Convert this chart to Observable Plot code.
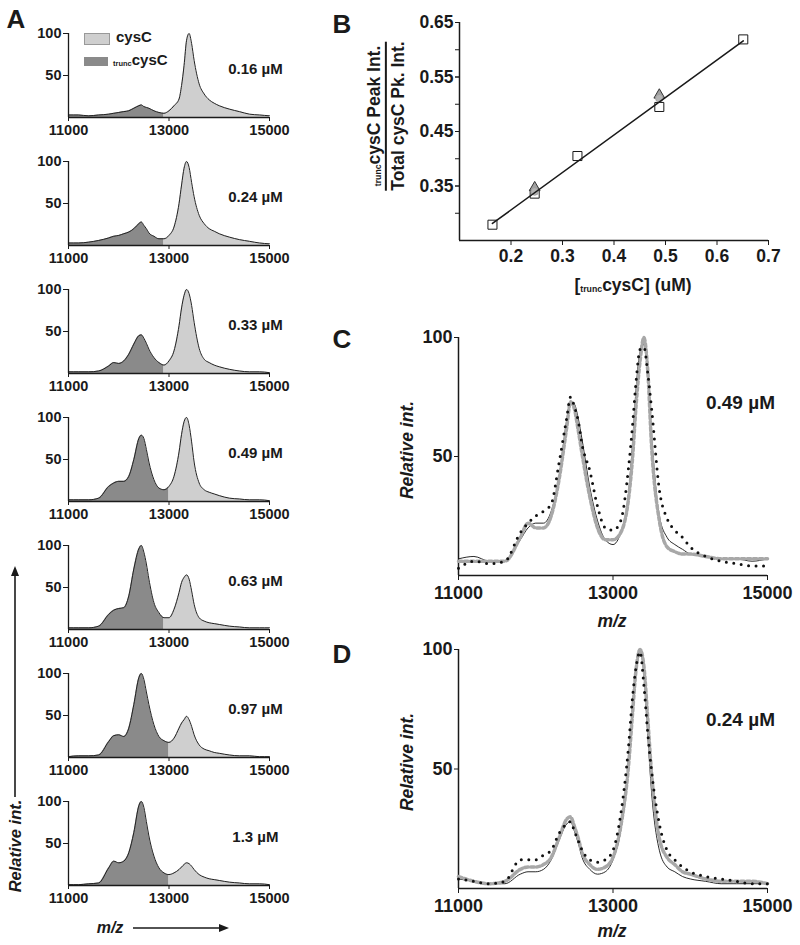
<!DOCTYPE html>
<html><head><meta charset="utf-8">
<script src="https://cdn.jsdelivr.net/npm/d3@7"></script>
<script src="https://cdn.jsdelivr.net/npm/@observablehq/plot@0.6"></script>
<style>
body{margin:0;background:#fff;}
#root{position:relative;width:800px;height:945px;font-family:"Liberation Sans",Arial,Helvetica,sans-serif;font-weight:bold;color:#1a1a1a;overflow:hidden;background:#fff}
sub.t{font-size:0.5em;vertical-align:baseline;position:relative;top:0.15em}
</style></head><body><div id="root"></div>
<script>
// ---------- DATA ----------
const mz = [11000,11200,11400,11600,11800,11900,12000,12100,12200,12300,12400,12450,12500,12550,12600,12700,12800,12900,13000,13100,13200,13250,13300,13350,13400,13450,13500,13600,13700,13800,13900,14000,14200,14400,14600,14800,15000];

// Panel A spectra (relative intensity)
const specA016 = [3,3,2,3,4,5,6,7,8,11,14,15,13,12,11,8,6,5,8,14,22,38,62,92,100,88,68,40,28,21,17,14,10,7,4,3,2];
const specA024 = [3,3,4,6,9,11,12,14,16,20,26,28,24,20,15,11,8,8,12,22,50,72,92,100,93,75,58,36,26,20,17,14,10,7,5,3,2];
const specA033 = [2,2,2,3,9,13,12,15,23,35,45,46,42,36,29,19,13,10,15,27,57,78,93,100,95,81,61,30,17,13,10,8,5,3,2,2,1];
const specA049 = [2,2,2,4,18,22,24,24,30,50,75,79,75,62,47,26,16,14,18,30,59,80,95,100,91,71,47,22,14,11,9,7,4,3,2,2,1];
const specA063 = [2,2,2,4,18,23,25,26,40,72,96,100,92,78,60,32,20,14,14,24,44,56,62,65,60,46,30,14,10,8,7,6,4,3,2,2,2];
const specA097 = [1,2,2,3,19,26,27,25,35,63,95,100,93,78,63,39,25,20,18,23,35,41,45,49,45,37,27,15,10,8,6,5,3,2,2,1,1];
const specA130 = [1,1,2,3,21,29,27,29,39,63,95,100,93,76,59,35,21,15,13,15,19,22,25,27,26,23,19,13,10,8,7,6,4,3,2,2,1];
const concA = ["0.16 µM","0.24 µM","0.33 µM","0.49 µM","0.63 µM","0.97 µM","1.3 µM"];
const splitA = [12900,12900,12900,13000,12900,13000,13000];
const xTicks = [11000,13000,15000];
const yTicksInt = [50,100];

// Panel B
const sqX = [0.164,0.246,0.329,0.488,0.651];
const sqY = [0.279,0.336,0.405,0.495,0.619];
const triX = [0.246,0.488];
const triY = [0.347,0.517];
const cirX = [0.246,0.488];
const cirY = [0.340,0.511];
const bTicksX = [0.2,0.3,0.4,0.5,0.6,0.7];
const bTicksY = [0.30,0.35,0.40,0.45,0.50,0.55,0.60,0.65];
const bLabelsY = [0.35,0.45,0.55,0.65];

// Panel C (0.49 µM)
const cSolid  = [7,8,6,6,15,20,22,22,27,41,65,73,72,66,57,37,23,15,13,18,34,54,79,94,97,86,59,25,16,13,11,9,8,7,7,6,7];
const cGrey   = [6,6,6,6,16,22,20,20,25,40,62,73,70,61,51,33,20,15,15,18,32,48,72,90,100,86,54,23,12,10,9,9,8,7,7,7,7];
const cDotted = [3,6,5,6,18,22,25,27,30,47,66,75,71,65,55,44,29,20,19,23,45,62,82,95,96,85,70,36,24,19,16,12,8,6,5,4,4];
// Panel D (0.24 µM)
const dSolid  = [4,3,2,2,6,7,7,8,12,20,27,28,24,19,13,8,6,7,12,24,50,71,90,99,90,64,40,16,9,7,5,4,3,2,2,2,2];
const dGrey   = [5,3,2,3,8,9,9,10,13,21,29,30,26,21,15,10,8,9,13,26,51,72,92,100,93,71,48,21,13,10,7,6,4,3,3,3,2];
const dDotted = [4,3,2,3,12,12,12,14,16,23,27,28,24,20,16,12,11,12,16,31,59,79,93,99,85,65,49,27,16,12,9,7,5,4,3,2,2];

// ---------- HELPERS ----------
const FONT = '"Liberation Sans", Arial, Helvetica, sans-serif';
const INK = "#1a1a1a";
const root = document.getElementById("root");
function place(node, left, top) {
  node.style.position = "absolute";
  node.style.left = left + "px";
  node.style.top = top + "px";
  root.appendChild(node);
}
function label(html, cx, cy, size, opts = {}) {
  const d = document.createElement("div");
  d.innerHTML = html;
  d.style.cssText = `position:absolute;left:${cx}px;top:${cy}px;transform:translate(-50%,-50%)${opts.rotate ? ` rotate(${opts.rotate}deg)` : ""};font-size:${size}px;font-weight:bold;${opts.italic ? "font-style:italic;" : ""}white-space:nowrap;line-height:1.15;text-align:center;color:${INK};`;
  root.appendChild(d);
  return d;
}
const series = vals => mz.map((m, k) => ({m, v: vals[k]}));
const baseStyle = size => ({fontFamily: FONT, fontWeight: "bold", fontSize: size + "px", color: INK, background: "none", overflow: "visible"});

// ---------- PANEL A ----------
const specA = [specA016, specA024, specA033, specA049, specA063, specA097, specA130];
specA.forEach((vals, i) => {
  const data = series(vals);
  const split = splitA[i];
  const svg = Plot.plot({
    width: 300, height: 119,
    marginLeft: 68, marginRight: 31, marginTop: 10, marginBottom: 25,
    x: {domain: [11000, 15000], label: null},
    y: {domain: [0, 100], label: null},
    style: baseStyle(14.5),
    marks: [
      Plot.areaY(data.filter(d => d.m <= split), {x: "m", y: "v", fill: "#8a8a8a", curve: "monotone-x"}),
      Plot.areaY(data.filter(d => d.m >= split), {x: "m", y: "v", fill: "#cfcfcf", curve: "monotone-x"}),
      Plot.lineY(data, {x: "m", y: "v", stroke: "#222", strokeWidth: 1, curve: "monotone-x"}),
      Plot.ruleY([0], {stroke: INK, strokeWidth: 1.3}),
      Plot.ruleX([11000], {stroke: INK, strokeWidth: 1.3}),
      Plot.axisX({ticks: xTicks, tickFormat: "d", tickSize: 4, tickPadding: 3, stroke: INK, fill: INK}),
      Plot.axisY({ticks: yTicksInt, tickSize: 5, tickPadding: 2, stroke: INK, fill: INK}),
      Plot.text([concA[i]], {x: 14720, y: 58, text: d => d, fontSize: 15, fill: INK})
    ]
  });
  place(svg, 0, 23 + i * 128);
});
// legend (panel A)
{
  const lg = document.createElement("div");
  lg.innerHTML = `
    <div style="position:absolute;left:84px;top:33px;width:24px;height:10px;background:#cfcfcf;border:0.5px solid #999"></div>
    <div style="position:absolute;left:116px;top:29px;font-size:15px;line-height:1">cysC</div>
    <div style="position:absolute;left:84px;top:57px;width:24px;height:9px;background:#8a8a8a"></div>
    <div style="position:absolute;left:113px;top:52px;font-size:15px;line-height:1"><sub class="t">trunc</sub>cysC</div>`;
  lg.style.cssText = "position:absolute;left:0;top:0;color:" + INK;
  root.appendChild(lg);
}
label("A", 16, 20, 26);
label("Relative int.", 15, 846, 16.5, {rotate: -90, italic: true});
label("m/z", 110, 928, 16, {italic: true});
// arrows (decoration)
{
  const ns = "http://www.w3.org/2000/svg";
  const s = document.createElementNS(ns, "svg");
  s.setAttribute("width", 800); s.setAttribute("height", 945);
  s.style.cssText = "position:absolute;left:0;top:0;pointer-events:none";
  s.innerHTML = `
    <line x1="15" y1="797" x2="15" y2="574" stroke="${INK}" stroke-width="1.6"/>
    <polygon points="15,566 11,576 19,576" fill="${INK}"/>
    <line x1="133" y1="928" x2="221" y2="928" stroke="${INK}" stroke-width="1.6"/>
    <polygon points="229,928 219,924 219,932" fill="${INK}"/>`;
  root.appendChild(s);
}

// ---------- PANEL B ----------
{
  const sq = sqX.map((x, k) => ({x, y: sqY[k]}));
  const tri = triX.map((x, k) => ({x, y: triY[k]}));
  const cir = cirX.map((x, k) => ({x, y: cirY[k]}));
  const svg = Plot.plot({
    width: 480, height: 310,
    marginLeft: 139, marginRight: 32, marginTop: 22, marginBottom: 70,
    x: {domain: [0.1, 0.7], label: null},
    y: {domain: [0.25, 0.65], label: null},
    style: baseStyle(17.5),
    marks: [
      Plot.ruleY([0.25], {stroke: INK, strokeWidth: 1.5}),
      Plot.ruleX([0.1], {stroke: INK, strokeWidth: 1.5}),
      Plot.axisX({ticks: bTicksX, tickFormat: ".1f", tickSize: 5, tickPadding: 4, stroke: INK, fill: INK}),
      Plot.axisY({ticks: bTicksY, tickFormat: () => "", tickSize: 4, stroke: INK}),
      Plot.axisY({ticks: bLabelsY, tickFormat: ".2f", tickSize: 4, tickPadding: 2, stroke: INK, fill: INK}),
      Plot.dot(sq, {x: "x", y: "y", symbol: "square", r: 5.1, fill: "white", stroke: INK, strokeWidth: 1}),
      Plot.dot(tri, {x: "x", y: "y", symbol: "triangle", r: 4, fill: "#a0a0a0", stroke: "#333", strokeWidth: 1}),
      Plot.dot(cir, {x: "x", y: "y", symbol: "circle", r: 3.8, fill: "#b4b4b4", stroke: "#999", strokeWidth: 0.8}),
      Plot.linearRegressionY(sq, {x: "x", y: "y", ci: 0, stroke: INK, strokeWidth: 1.6})
    ]
  });
  place(svg, 320, 0);
  label("B", 342, 25, 26);
  label(`<div style="border-bottom:2px solid ${INK};padding-bottom:1px"><sub class="t">trunc</sub>cysC Peak Int.</div><div style="padding-top:1px">Total cysC Pk. Int.</div>`, 386, 116, 17.5, {rotate: -90});
  label(`[<sub class="t">trunc</sub>cysC] (uM)`, 633, 285, 17.5);
}

// ---------- PANELS C & D ----------
function overlay(top, marginTop, plotH, solid, grey, dotted, conc, concY) {
  const svg = Plot.plot({
    width: 480, height: marginTop + plotH + 50,
    marginLeft: 138, marginRight: 33, marginTop: marginTop, marginBottom: 50,
    x: {domain: [11000, 15000], label: null},
    y: {domain: [0, 100], label: null},
    style: baseStyle(18),
    marks: [
      Plot.ruleY([0], {stroke: INK, strokeWidth: 1.5}),
      Plot.ruleX([11000], {stroke: INK, strokeWidth: 1.5}),
      Plot.axisX({ticks: xTicks, tickFormat: "d", tickSize: 5, tickPadding: 6, stroke: INK, fill: INK}),
      Plot.axisY({ticks: yTicksInt, tickSize: 4, tickPadding: 2, stroke: INK, fill: INK}),
      Plot.lineY(series(solid), {x: "m", y: "v", stroke: "#111", strokeWidth: 0.9, curve: "monotone-x"}),
      Plot.lineY(series(grey), {x: "m", y: "v", stroke: "#a8a8a8", strokeWidth: 3.5, strokeDasharray: "3.5,2.5", curve: "monotone-x"}),
      Plot.lineY(series(dotted), {x: "m", y: "v", stroke: "#111", strokeWidth: 3, strokeDasharray: "0,7.5", strokeLinecap: "round", curve: "monotone-x"}),
      Plot.text([conc], {x: 14650, y: concY, text: d => d, fontSize: 19, fill: INK})
    ]
  });
  place(svg, 320, top);
}
overlay(320, 17, 238, cSolid, cGrey, cDotted, "0.49 µM", 72.7);
label("C", 342, 340, 26);
label("Relative int.", 407, 450, 17.5, {rotate: -90, italic: true});
label("m/z", 612, 621, 17.5, {italic: true});

overlay(620, 29, 239, dSolid, dGrey, dDotted, "0.24 µM", 70.7);
label("D", 342, 655, 26);
label("Relative int.", 407, 762, 17.5, {rotate: -90, italic: true});
label("m/z", 612, 931, 17.5, {italic: true});
</script></body></html>
